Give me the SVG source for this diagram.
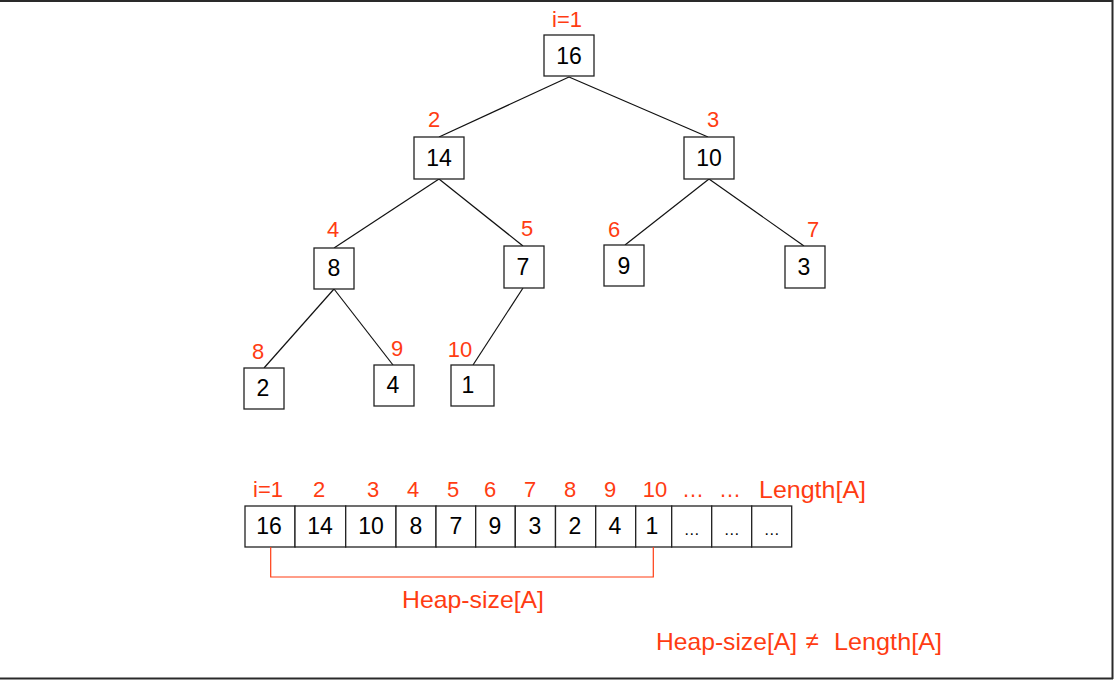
<svg xmlns="http://www.w3.org/2000/svg" width="1115" height="680" viewBox="0 0 1115 680">
  <style>
    .box { fill: #ffffff; stroke: #222222; stroke-width: 1.3; }
    .edge { stroke: #111111; stroke-width: 1.2; fill: none; }
    .val { font-family: "Liberation Sans", "DejaVu Sans", sans-serif; font-size: 23px; fill: #000000; text-anchor: middle; }
    .idx { font-family: "Liberation Sans", "DejaVu Sans", sans-serif; font-size: 22px; fill: #ff3c12; text-anchor: middle; }
    .note { font-family: "Liberation Sans", "DejaVu Sans", sans-serif; font-size: 24px; fill: #ff3c12; }
    .dots { font-family: "Liberation Sans", "DejaVu Sans", sans-serif; font-size: 16px; fill: #000000; text-anchor: middle; }
    .frame { stroke: #2a2a2a; stroke-width: 2; fill: none; }
  </style>
  <rect x="0" y="0" width="1115" height="680" fill="#ffffff"/>

  <!-- slide frame -->
  <line class="frame" x1="0" y1="1" x2="1113" y2="1"/>
  <line class="frame" x1="0" y1="678.5" x2="1113" y2="678.5"/>
  <line class="frame" x1="1112.5" y1="0" x2="1112.5" y2="679"/>

  <!-- tree edges -->
  <g id="connectors">
    <line class="edge" x1="569" y1="77" x2="439" y2="137"/>
    <line class="edge" x1="569" y1="77" x2="708" y2="137"/>
    <line class="edge" x1="439" y1="179" x2="334" y2="248"/>
    <line class="edge" x1="439" y1="179" x2="523" y2="246"/>
    <line class="edge" x1="709" y1="179" x2="625" y2="245"/>
    <line class="edge" x1="709" y1="179" x2="804" y2="246"/>
    <line class="edge" x1="334" y1="289" x2="264" y2="368"/>
    <line class="edge" x1="334" y1="289" x2="393" y2="365"/>
    <line class="edge" x1="523" y1="288" x2="473" y2="365"/>
  </g>

  <!-- tree nodes -->
  <g id="node1">
    <rect class="box" x="544" y="35" width="50" height="41"/>
    <text class="val" x="569" y="64">16</text>
    <text class="idx" x="567" y="27">i=1</text>
  </g>
  <g id="node2">
    <rect class="box" x="414" y="137" width="50" height="42"/>
    <text class="val" x="439" y="166">14</text>
    <text class="idx" x="434" y="127">2</text>
  </g>
  <g id="node3">
    <rect class="box" x="684" y="137" width="50" height="42"/>
    <text class="val" x="709" y="166">10</text>
    <text class="idx" x="713" y="127">3</text>
  </g>
  <g id="node4">
    <rect class="box" x="314" y="248" width="40" height="41"/>
    <text class="val" x="334" y="276">8</text>
    <text class="idx" x="333" y="237">4</text>
  </g>
  <g id="node5">
    <rect class="box" x="504" y="246" width="40" height="42"/>
    <text class="val" x="523" y="275">7</text>
    <text class="idx" x="527" y="236">5</text>
  </g>
  <g id="node6">
    <rect class="box" x="604" y="245" width="40" height="41"/>
    <text class="val" x="624" y="274">9</text>
    <text class="idx" x="614" y="237">6</text>
  </g>
  <g id="node7">
    <rect class="box" x="785" y="246" width="40" height="42"/>
    <text class="val" x="804" y="275">3</text>
    <text class="idx" x="813" y="237">7</text>
  </g>
  <g id="node8">
    <rect class="box" x="244" y="368" width="40" height="41"/>
    <text class="val" x="263" y="396">2</text>
    <text class="idx" x="258" y="359">8</text>
  </g>
  <g id="node9">
    <rect class="box" x="374" y="365" width="40" height="41"/>
    <text class="val" x="393" y="393">4</text>
    <text class="idx" x="397" y="356">9</text>
  </g>
  <g id="node10">
    <rect class="box" x="451" y="365" width="43" height="41"/>
    <text class="val" x="468" y="393">1</text>
    <text class="idx" x="460" y="357">10</text>
  </g>

  <!-- array A -->
  <g id="array">
    <rect class="box" x="245" y="506" width="50" height="41"/>
    <rect class="box" x="295" y="506" width="50.7" height="41"/>
    <rect class="box" x="345.7" y="506" width="50.3" height="41"/>
    <rect class="box" x="396" y="506" width="40" height="41"/>
    <rect class="box" x="436" y="506" width="39.7" height="41"/>
    <rect class="box" x="475.7" y="506" width="39.6" height="41"/>
    <rect class="box" x="515.3" y="506" width="40.2" height="41"/>
    <rect class="box" x="555.5" y="506" width="40.2" height="41"/>
    <rect class="box" x="595.7" y="506" width="40" height="41"/>
    <rect class="box" x="635.7" y="506" width="36" height="41"/>
    <rect class="box" x="671.7" y="506" width="40" height="41"/>
    <rect class="box" x="711.7" y="506" width="40" height="41"/>
    <rect class="box" x="751.7" y="506" width="40" height="41"/>

    <text class="val" x="269" y="534">16</text>
    <text class="val" x="320" y="534">14</text>
    <text class="val" x="371" y="534">10</text>
    <text class="val" x="416" y="534">8</text>
    <text class="val" x="456" y="534">7</text>
    <text class="val" x="495" y="534">9</text>
    <text class="val" x="535" y="534">3</text>
    <text class="val" x="575" y="534">2</text>
    <text class="val" x="615" y="534">4</text>
    <text class="val" x="652" y="534">1</text>
    <text class="dots" x="691.7" y="535">…</text>
    <text class="dots" x="731.7" y="535">…</text>
    <text class="dots" x="771.7" y="535">…</text>
  </g>

  <!-- array indices -->
  <g id="array-indices">
    <text class="idx" x="268" y="497">i=1</text>
    <text class="idx" x="319" y="497">2</text>
    <text class="idx" x="373" y="497">3</text>
    <text class="idx" x="413" y="497">4</text>
    <text class="idx" x="453" y="497">5</text>
    <text class="idx" x="490" y="497">6</text>
    <text class="idx" x="530" y="497">7</text>
    <text class="idx" x="570" y="497">8</text>
    <text class="idx" x="610" y="497">9</text>
    <text class="idx" x="655" y="497">10</text>
    <text class="idx" x="693" y="497" font-size="16">…</text>
    <text class="idx" x="730" y="497" font-size="16">…</text>
    <text class="note" x="759" y="498" textLength="107" lengthAdjust="spacingAndGlyphs">Length[A]</text>
  </g>

  <!-- heap-size bracket -->
  <g id="heap-size">
    <polyline points="270.7,547 270.7,577 653.3,577 653.3,547" fill="none" stroke="#ff3c12" stroke-width="1.2"/>
    <text class="note" x="402" y="608" textLength="142" lengthAdjust="spacingAndGlyphs">Heap-size[A]</text>
  </g>

  <g id="inequality">
    <text class="note" x="656" y="650" textLength="141" lengthAdjust="spacingAndGlyphs">Heap-size[A]</text>
    <text class="note" x="812" y="649" font-size="19" text-anchor="middle">≠</text>
    <text class="note" x="834" y="650" textLength="108" lengthAdjust="spacingAndGlyphs">Length[A]</text>
  </g>
</svg>
